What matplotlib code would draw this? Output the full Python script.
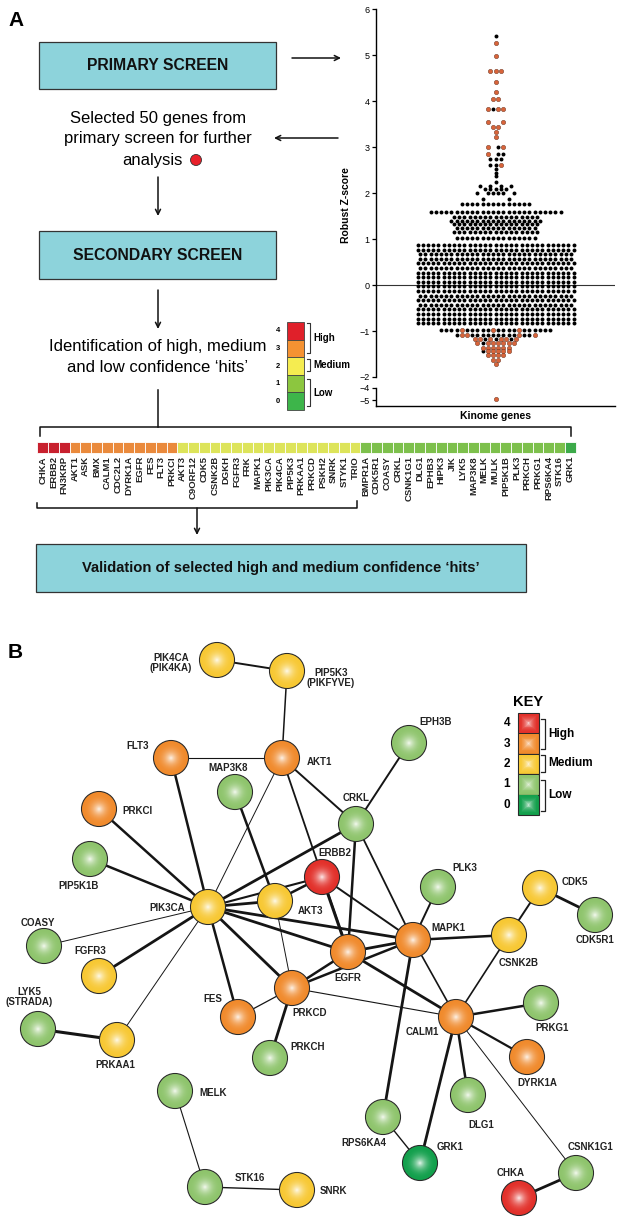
import matplotlib
matplotlib.use('Agg')
import matplotlib.pyplot as plt
import matplotlib.patches as mpatches
import numpy as np

plt.rcParams['font.family'] = ['Liberation Sans', 'DejaVu Sans']

# ---------------- DATA ----------------
heat_genes = ["CHKA", "ERBB2", "FN3KRP", "AKT1", "ASK", "BMX", "CALM1", "CDC2L2", "DYRK1A",
              "EGFR", "FES", "FLT3", "PRKCI", "AKT3", "C9ORF12", "CDK5", "CSNK2B", "DGKH",
              "FGFR3", "FRK", "MAPK1", "PIK3CA", "PIK4CA", "PIP5K3", "PRKAA1", "PRKCD",
              "PSKH2", "SNRK", "STYK1", "TRIO", "BMPR1A", "CDK5R1", "COASY", "CRKL",
              "CSNK1G1", "DLG1", "EPHB3", "HIPK3", "JIK", "LYK5", "MAP3K8", "MELK", "MULK",
              "PIP5K1B", "PLK3", "PRKCH", "PRKG1", "RPS6KA4", "STK16", "GRK1"]
heat_levels = [4, 4, 4, 3, 3, 3, 3, 3, 3, 3, 3, 3, 3, 2, 2, 2, 2, 2, 2, 2, 2, 2, 2, 2, 2, 2,
               2, 2, 2, 2, 1, 1, 1, 1, 1, 1, 1, 1, 1, 1, 1, 1, 1, 1, 1, 1, 1, 1, 1, 0]

# swarm rows: z value and colour code of each dot (B = black, O = selected, . = gap)
swarm_z = [5.41, 5.26, 4.99, 4.66, 4.42, 4.21, 4.05, 3.83, 3.55, 3.43, 3.33, 3.22, 3.00,
           2.85, 2.74, 2.62, 2.53, 2.44, 2.37, 2.25, 2.16, 2.08, 2.00, 1.88, 1.76, 1.58,
           1.48, 1.40, 1.33, 1.25, 1.15, 1.02, 0.87, 0.77, 0.67, 0.57, 0.47, 0.37, 0.27,
           0.17, 0.07, -0.03, -0.13, -0.23, -0.33, -0.43, -0.53, -0.63, -0.73, -0.83,
           -0.97, -1.08, -1.18, -1.27, -1.36, -1.44, -1.53, -1.62, -1.72]
swarm_code = ["B", "O", "O", "OOO", "O", "O", "OO", "OBOO", "O..O", "OO", "O", "O", "O.BO",
              "O.BB", "BBB", "BBO", "B", "B", "B", "B", "B.B.B.B", "BBBBB", "B.BBBB.B", "B....B",
              "B" * 14, "B" * 26, "B" * 17, "B" * 18, "B" * 17, "B" * 16, "B" * 17, "B" * 16,
              "B" * 31, "B" * 31, "B" * 30, "B" * 30, "B" * 31, "B" * 30, "B" * 31, "B" * 31,
              "B" * 31, "B" * 31, "B" * 31, "B" * 30, "B" * 31, "B" * 30, "B" * 31, "B" * 31,
              "B" * 31, "B" * 31,
              "BBBBOBBBBBOBBBBOBBBBBB", "BOOBBBBBBBBBOBBO", "OOBOBOOBO", "OBOOOOOO",
              "OOOOOO", "BOOOOO", "OOOO", "OO", "O"]
swarm_low_z = [-4.95]
swarm_low_code = ["O"]

# network (panel B)
node_names = ["PIK4CA", "PIP5K3", "EPH3B", "FLT3", "AKT1", "MAP3K8", "PRKCI", "CRKL",
              "PIP5K1B", "ERBB2", "PLK3", "CDK5", "PIK3CA", "AKT3", "COASY", "MAPK1",
              "CSNK2B", "CDK5R1", "FGFR3", "EGFR", "PRKCD", "FES", "LYK5", "PRKAA1",
              "CALM1", "PRKG1", "PRKCH", "DYRK1A", "MELK", "DLG1", "RPS6KA4", "GRK1",
              "CSNK1G1", "CHKA", "STK16", "SNRK"]
node_levels = [2, 2, 1, 3, 3, 1, 3, 1, 1, 4, 1, 2, 2, 2, 1, 3, 2, 1, 2, 3, 3, 3, 1, 2,
               3, 1, 1, 3, 1, 1, 1, 0, 1, 4, 1, 2]
node_labels = ["PIK4CA\n(PIK4KA)", "PIP5K3\n(PIKFYVE)", "EPH3B", "FLT3", "AKT1", "MAP3K8",
               "PRKCI", "CRKL", "PIP5K1B", "ERBB2", "PLK3", "CDK5", "PIK3CA", "AKT3",
               "COASY", "MAPK1", "CSNK2B", "CDK5R1", "FGFR3", "EGFR", "PRKCD", "FES",
               "LYK5\n(STRADA)", "PRKAA1", "CALM1", "PRKG1", "PRKCH", "DYRK1A", "MELK",
               "DLG1", "RPS6KA4", "GRK1", "CSNK1G1", "CHKA", "STK16", "SNRK"]
edge_from = ["PIK4CA", "PIP5K3", "FLT3", "FLT3", "AKT1", "AKT1", "AKT1", "MAP3K8", "CRKL",
             "CRKL", "CRKL", "CRKL", "PRKCI", "PIP5K1B", "ERBB2", "ERBB2", "ERBB2", "ERBB2",
             "PLK3", "CDK5", "CDK5", "PIK3CA", "PIK3CA", "PIK3CA", "PIK3CA", "PIK3CA",
             "PIK3CA", "PIK3CA", "PIK3CA", "AKT3", "PRKCD", "PRKCD", "EGFR", "EGFR", "PRKCD",
             "PRKCD", "PRKCD", "MAPK1", "MAPK1", "MAPK1", "CSNK2B", "CALM1", "CALM1", "CALM1",
             "CALM1", "CALM1", "RPS6KA4", "CSNK1G1", "LYK5", "MELK", "STK16"]
edge_to = ["PIP5K3", "AKT1", "AKT1", "PIK3CA", "PIK3CA", "CRKL", "EGFR", "AKT3", "EPH3B",
           "PIK3CA", "EGFR", "MAPK1", "PIK3CA", "PIK3CA", "AKT3", "PIK3CA", "EGFR", "MAPK1",
           "MAPK1", "CSNK2B", "CDK5R1", "AKT3", "MAPK1", "EGFR", "PRKCD", "FES", "FGFR3",
           "PRKAA1", "COASY", "PRKCD", "EGFR", "MAPK1", "MAPK1", "CALM1", "FES", "PRKCH",
           "CALM1", "CSNK2B", "CALM1", "RPS6KA4", "CALM1", "PRKG1", "DYRK1A", "DLG1", "GRK1",
           "CSNK1G1", "GRK1", "CHKA", "PRKAA1", "STK16", "SNRK"]
edge_weight = [1.4, 1.1, 0.8, 1.8, 0.7, 1.4, 1.3, 1.8, 1.4, 2.0, 1.8, 1.3, 1.8, 1.8, 1.8,
               1.5, 2.2, 1.4, 1.4, 1.4, 2.0, 2.0, 2.0, 2.0, 2.0, 1.8, 2.0, 0.7, 0.7, 0.7,
               1.8, 1.8, 2.0, 2.0, 0.9, 2.0, 0.8, 1.8, 1.2, 2.0, 1.2, 1.8, 1.6, 1.8, 2.0,
               0.7, 1.0, 2.0, 2.2, 0.8, 1.0]

# ---------------- LAYOUT (pixel space) ----------------
W, H = 622, 1223
node_xy = {"PIK4CA": (217, 660), "PIP5K3": (287, 671), "EPH3B": (409, 743), "FLT3": (171, 758),
           "AKT1": (282, 758), "MAP3K8": (235, 792), "PRKCI": (99, 809), "CRKL": (356, 824),
           "PIP5K1B": (90, 859), "ERBB2": (322, 877), "PLK3": (438, 887), "CDK5": (540, 888),
           "PIK3CA": (208, 907), "AKT3": (275, 901), "COASY": (44, 946), "MAPK1": (413, 940),
           "CSNK2B": (509, 935), "CDK5R1": (595, 915), "FGFR3": (99, 976), "EGFR": (348, 952),
           "PRKCD": (292, 988), "FES": (238, 1017), "LYK5": (38, 1029), "PRKAA1": (117, 1040),
           "CALM1": (456, 1017), "PRKG1": (541, 1003), "PRKCH": (270, 1058),
           "DYRK1A": (527, 1057), "MELK": (175, 1091), "DLG1": (468, 1095),
           "RPS6KA4": (383, 1117), "GRK1": (420, 1163), "CSNK1G1": (576, 1173),
           "CHKA": (519, 1198), "STK16": (205, 1187), "SNRK": (297, 1190)}
label_xy = {"PIK4CA": (171, 663), "PIP5K3": (331, 678), "EPH3B": (436, 722), "FLT3": (138, 746),
            "AKT1": (319, 762), "MAP3K8": (228, 768), "PRKCI": (137, 811), "CRKL": (356, 798),
            "PIP5K1B": (79, 886), "ERBB2": (335, 853), "PLK3": (465, 868), "CDK5": (575, 882),
            "PIK3CA": (167, 908), "AKT3": (310, 911), "COASY": (38, 923), "MAPK1": (448, 928),
            "CSNK2B": (519, 963), "CDK5R1": (595, 940), "FGFR3": (90, 951), "EGFR": (348, 978),
            "PRKCD": (310, 1013), "FES": (213, 999), "LYK5": (29, 997), "PRKAA1": (115, 1065),
            "CALM1": (422, 1032), "PRKG1": (552, 1028), "PRKCH": (308, 1047),
            "DYRK1A": (537, 1083), "MELK": (213, 1093), "DLG1": (481, 1125),
            "RPS6KA4": (364, 1143), "GRK1": (450, 1147), "CSNK1G1": (590, 1147),
            "CHKA": (511, 1173), "STK16": (250, 1178), "SNRK": (333, 1191)}

heat_col = {4: '#C8202E', 3: '#EA8A3C', 2: '#DDE45A', 1: '#7DC04C', 0: '#3CAA4A'}
keyA_col = {4: '#E0202A', 3: '#F59232', 2: '#F5EC50', 1: '#8CC63F', 0: '#3DB54A'}
net_col = {4: '#E2302A', 3: '#F08A2C', 2: '#F7C833', 1: '#8EC46C', 0: '#12A04C'}
box_col = '#8DD3DB'

fig = plt.figure(figsize=(W / 100, H / 100), dpi=100)
ax = fig.add_axes([0, 0, 1, 1])
ax.set_xlim(0, W)
ax.set_ylim(H, 0)
ax.axis('off')


def px_axes(x0, y0, x1, y1):
    return fig.add_axes([x0 / W, 1 - y1 / H, (x1 - x0) / W, (y1 - y0) / H])


def arrow(x0, y0, x1, y1):
    ax.annotate('', xy=(x1, y1), xytext=(x0, y0),
                arrowprops=dict(arrowstyle='->', lw=1.1, color='#111',
                                mutation_scale=9, shrinkA=0, shrinkB=0))


def box(x0, y0, x1, y1, text, fs):
    ax.add_patch(mpatches.Rectangle((x0, y0), x1 - x0, y1 - y0, facecolor=box_col,
                                    edgecolor='#333', lw=0.9))
    ax.text((x0 + x1) / 2, (y0 + y1) / 2, text, ha='center', va='center',
            fontsize=fs, fontweight='bold', color='#111')


# ---------------- PANEL A ----------------
ax.text(8, 20, 'A', fontsize=15, fontweight='bold', va='center', ha='left')
box(39, 42, 276, 89, 'PRIMARY SCREEN', 11.3)
arrow(292, 58, 341, 58)
ax.text(158, 118, 'Selected 50 genes from', ha='center', va='center', fontsize=12)
ax.text(158, 139, 'primary screen for further', ha='center', va='center', fontsize=12)
ax.text(152, 160, 'analysis', ha='center', va='center', fontsize=12)
ax.add_patch(mpatches.Circle((196, 160), 5.5, facecolor='#E8202A', edgecolor='#333', lw=0.6))
arrow(338, 138, 274, 138)
arrow(158, 177, 158, 216)
box(39, 231, 276, 279, 'SECONDARY SCREEN', 11.3)
arrow(158, 290, 158, 329)
ax.text(158, 346, 'Identification of high, medium', ha='center', va='center', fontsize=12)
ax.text(158, 368, 'and low confidence \u2018hits\u2019', ha='center', va='center', fontsize=12)

# stem + top bracket
ax.plot([158, 158], [390, 427], color='#111', lw=1.1)
ax.plot([40, 40, 571, 571], [436, 427, 427, 436], color='#111', lw=1.1)

# key in panel A
for i, lev in enumerate([4, 3, 2, 1, 0]):
    y0 = 322 + i * 17.6
    ax.add_patch(mpatches.Rectangle((287, y0), 17, 17.6, facecolor=keyA_col[lev],
                                    edgecolor='#444', lw=0.6))
    ax.text(280, y0 + 8.8, str(lev), ha='right', va='center', fontsize=5.5, fontweight='bold')
for (ya, yb, lab) in [(323, 353, 'High'), (359, 371, 'Medium'), (379, 406, 'Low')]:
    ax.plot([307, 310, 310, 307], [ya, ya, yb, yb], color='#333', lw=0.8)
    ax.text(313, (ya + yb) / 2, lab, ha='left', va='center', fontsize=7, fontweight='bold')

# heatmap
x0h, cw = 37.3, 10.77
for i, (g, lev) in enumerate(zip(heat_genes, heat_levels)):
    xx = x0h + i * cw
    ax.add_patch(mpatches.Rectangle((xx, 442), cw, 11, facecolor=heat_col[lev],
                                    edgecolor='white', lw=0.6))
    ax.text(xx + cw / 2, 456, g, rotation=90, ha='center', va='top', fontsize=6.8,
            fontweight='bold', color='#222')

# bottom bracket + arrow
ax.plot([37, 37, 357, 357], [503, 508, 508, 501], color='#111', lw=1.1)
arrow(197, 508, 197, 535)
box(36, 544, 526, 592, 'Validation of selected high and medium confidence \u2018hits\u2019', 10.6)

# ---------------- SWARM ----------------
dot_px = 5.2
axw = 615 - 376
ax_m = px_axes(376, 9.3, 615, 377)
ax_l = px_axes(376, 385, 615, 406)


def draw_rows(a, zs, codes):
    bx, by, ox, oy = [], [], [], []
    for z, code in zip(zs, codes):
        n = len(code)
        for i, c in enumerate(code):
            xx = 0.5 + (i - (n - 1) / 2) * dot_px / axw
            if c == 'B':
                bx.append(xx); by.append(z)
            elif c == 'O':
                ox.append(xx); oy.append(z)
    a.scatter(bx, by, s=8, color='black', linewidths=0, zorder=3)
    a.scatter(ox, oy, s=10, facecolor='#D8643A', edgecolor='#5a2a18', linewidths=0.3, zorder=4)


draw_rows(ax_m, swarm_z, swarm_code)
draw_rows(ax_l, swarm_low_z, swarm_low_code)

for a in (ax_m, ax_l):
    a.set_xlim(0, 1)
    a.patch.set_alpha(0)
    a.spines['top'].set_visible(False)
    a.spines['right'].set_visible(False)
    a.spines['left'].set_linewidth(1.0)
    a.set_xticks([])
    a.tick_params(axis='y', length=3, width=0.9, labelsize=6.5, pad=1.5)

ax_m.set_ylim(-2, 6)
ax_m.set_yticks(range(-2, 7))
ax_m.spines['bottom'].set_visible(False)
ax_m.axhline(0, color='#333', lw=0.8, zorder=1)

ax_l.set_ylim(-5.5, -3.75)
ax_l.set_yticks([-4, -5])
ax_l.spines['left'].set_bounds(-5.5, -4)
ax_l.spines['bottom'].set_linewidth(1.0)

ax.text(346, 205, 'Robust Z-score', rotation=90, ha='center', va='center',
        fontsize=7.5, fontweight='bold')
ax.text(495, 416, 'Kinome genes', ha='center', va='center', fontsize=7.5, fontweight='bold')

# ---------------- PANEL B ----------------
ax.text(8, 652, 'B', fontsize=15, fontweight='bold', va='center', ha='left')

for a_, b_, w_ in zip(edge_from, edge_to, edge_weight):
    (xa, ya), (xb, yb) = node_xy[a_], node_xy[b_]
    ax.plot([xa, xb], [ya, yb], color='#151515', lw=w_, solid_capstyle='round', zorder=2)


def blend(c, t):
    rgb = np.array(matplotlib.colors.to_rgb(c))
    return tuple(rgb * (1 - t) + np.ones(3) * t)


R = 17.5
for name, lev, lab in zip(node_names, node_levels, node_labels):
    x, y = node_xy[name]
    base = net_col[lev]
    ax.add_patch(mpatches.Circle((x, y), R, facecolor=base, edgecolor='#2a2a2a',
                                 lw=0.8, zorder=3))
    for k in range(1, 18):
        f = 1 - k / 18
        t = (1 - f) ** 2.4 * 0.95
        ax.add_patch(mpatches.Circle((x, y), R * f, facecolor=blend(base, t),
                                     edgecolor='none', zorder=3 + k * 0.01))
    lx, ly = label_xy[name]
    ax.text(lx, ly, lab, ha='center', va='center', fontsize=7, fontweight='bold',
            color='#222', zorder=6, linespacing=1.05)

# key B
ax.text(528, 702, 'KEY', ha='center', va='center', fontsize=10.5, fontweight='bold')
for i, lev in enumerate([4, 3, 2, 1, 0]):
    y0 = 713 + i * 20.4
    base = net_col[lev]
    ax.add_patch(mpatches.Rectangle((518, y0), 21, 20.4, facecolor=base,
                                    edgecolor='#2a2a2a', lw=0.8, zorder=3))
    for k in range(1, 12):
        f = 1 - k / 12
        t = (1 - f) ** 2.4 * 0.9
        ax.add_patch(mpatches.Rectangle((528.5 - 10.5 * f, y0 + 10.2 - 10.2 * f), 21 * f,
                                        20.4 * f, facecolor=blend(base, t), edgecolor='none',
                                        zorder=3 + k * 0.01))
    ax.text(510, y0 + 10.2, str(lev), ha='right', va='center', fontsize=8.5, fontweight='bold')
for (ya, yb, lab) in [(719, 749, 'High'), (755, 772, 'Medium'), (780, 811, 'Low')]:
    ax.plot([541, 545, 545, 541], [ya, ya, yb, yb], color='#222', lw=0.9)
    ax.text(548, (ya + yb) / 2, lab, ha='left', va='center', fontsize=8.5, fontweight='bold')

fig.savefig('out.png', dpi=100)
